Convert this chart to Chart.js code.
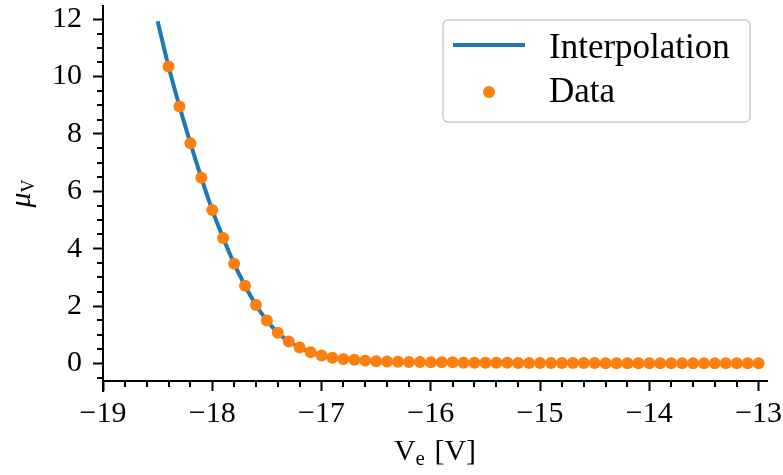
<!DOCTYPE html>
<html>
<head>
<meta charset="utf-8">
<script src="https://cdn.jsdelivr.net/npm/chart.js@4/dist/chart.umd.min.js"></script>
<style>
html, body { margin: 0; padding: 0; background: #fff; }
</style>
</head>
<body>
<canvas id="myChart" width="783" height="475"></canvas>
<script>
// measured points
var voltage = [-18.4, -18.3, -18.2, -18.1, -18.0, -17.9, -17.8, -17.7, -17.6, -17.5,
               -17.4, -17.3, -17.2, -17.1, -17.0, -16.9, -16.8, -16.7, -16.6, -16.5,
               -16.4, -16.3, -16.2, -16.1, -16.0, -15.9, -15.8, -15.7, -15.6, -15.5,
               -15.4, -15.3, -15.2, -15.1, -15.0, -14.9, -14.8, -14.7, -14.6, -14.5,
               -14.4, -14.3, -14.2, -14.1, -14.0, -13.9, -13.8, -13.7, -13.6, -13.5,
               -13.4, -13.3, -13.2, -13.1, -13.0];
var mobility = [10.35, 8.96, 7.68, 6.47, 5.35, 4.37, 3.48, 2.71, 2.04, 1.50,
                1.07, 0.77, 0.56, 0.39, 0.28, 0.20, 0.16, 0.13, 0.10, 0.08,
                0.07, 0.06, 0.05, 0.05, 0.04, 0.04, 0.04, 0.03, 0.03, 0.03,
                0.03, 0.03, 0.02, 0.02, 0.02, 0.02, 0.02, 0.02, 0.02, 0.02,
                0.01, 0.01, 0.01, 0.01, 0.01, 0.01, 0.01, 0.01, 0.01, 0.01,
                0.01, 0.01, 0.01, 0.01, 0.01];

// interpolation curve
var interpVoltage = [-18.5, -18.4, -18.3, -18.2, -18.1, -18.0, -17.9, -17.8, -17.7, -17.6,
                     -17.5, -17.4, -17.3, -17.2, -17.1, -17.0, -16.9, -16.8, -16.7, -16.6,
                     -16.5, -16.0, -15.5, -15.0, -14.5, -14.0, -13.5, -13.0];
var interpMobility = [11.93, 10.35, 8.96, 7.68, 6.47, 5.35, 4.37, 3.48, 2.71, 2.04,
                      1.50, 1.07, 0.77, 0.56, 0.39, 0.28, 0.20, 0.16, 0.13, 0.10,
                      0.08, 0.04, 0.03, 0.02, 0.02, 0.01, 0.01, 0.01];

var xTicks = [-19, -18, -17, -16, -15, -14, -13];
var yTicks = [0, 2, 4, 6, 8, 10, 12];
var seriesNames = ["Interpolation", "Data"];

var serif = "'Liberation Serif', 'DejaVu Serif', serif";
var blue = "#1f77b4";
var orange = "#ff7f0e";

function toPoints(xs, ys) {
    var pts = [];
    for (var i = 0; i < xs.length; i++) pts.push({x: xs[i], y: ys[i]});
    return pts;
}
function fmt(v) {
    return v < 0 ? "\u2212" + Math.abs(v) : String(v);
}

var extras = {
    id: "extras",
    afterDraw: function(chart) {
        var ctx = chart.ctx;
        var area = chart.chartArea;
        var xs = chart.scales.x, ys = chart.scales.y;
        ctx.save();
        ctx.strokeStyle = "#000";
        ctx.lineWidth = 2;
        // minor ticks
        ctx.beginPath();
        for (var k = -95; k <= -65; k++) {
            var v = k / 5;
            if (k % 5 === 0 || v > xs.max) continue;
            var px = Math.round(xs.getPixelForValue(v));
            ctx.moveTo(px, area.bottom);
            ctx.lineTo(px, area.bottom + 6);
        }
        for (var j = -1; j <= 25; j++) {
            var w = j / 2;
            if (j % 4 === 0 || w > ys.max) continue;
            var py = Math.round(ys.getPixelForValue(w));
            ctx.moveTo(area.left - 6, py);
            ctx.lineTo(area.left, py);
        }
        // left spine runs a bit below the bottom spine
        ctx.moveTo(area.left, area.bottom);
        ctx.lineTo(area.left, area.bottom + 11);
        ctx.stroke();

        // legend
        var bx = 443, by = 20, bw = 307, bh = 102;
        ctx.beginPath();
        ctx.roundRect(bx, by, bw, bh, 5);
        ctx.fillStyle = "rgba(255,255,255,0.8)";
        ctx.fill();
        ctx.strokeStyle = "#cccccc";
        ctx.lineWidth = 1.5;
        ctx.stroke();

        ctx.beginPath();
        ctx.strokeStyle = blue;
        ctx.lineWidth = 4;
        ctx.moveTo(453, 45);
        ctx.lineTo(525, 45);
        ctx.stroke();
        ctx.beginPath();
        ctx.fillStyle = orange;
        ctx.arc(489, 92, 6, 0, Math.PI * 2);
        ctx.fill();

        ctx.fillStyle = "#000";
        ctx.font = "35px " + serif;
        ctx.textBaseline = "alphabetic";
        ctx.textAlign = "left";
        ctx.fillText(seriesNames[0], 549, 58);
        ctx.fillText(seriesNames[1], 549, 102);

        // x axis title: V_e [V]
        var big = "30px " + serif, small = "21px " + serif;
        ctx.font = big;
        var wV = ctx.measureText("V").width;
        var wRest = ctx.measureText(" [V]").width;
        ctx.font = small;
        var wE = ctx.measureText("e").width;
        var total = wV + wE + 2 + wRest;
        var cx = (area.left + area.right) / 2 - total / 2;
        var base = 460;
        ctx.font = big;
        ctx.fillText("V", cx, base);
        ctx.font = small;
        ctx.fillText("e", cx + wV, base + 5);
        ctx.font = big;
        ctx.fillText(" [V]", cx + wV + wE + 2, base);

        // y axis title: mu_V
        ctx.translate(30, (area.top + area.bottom) / 2);
        ctx.rotate(-Math.PI / 2);
        ctx.font = "italic 30px " + serif;
        var wMu = ctx.measureText("\u03bc").width;
        ctx.font = "18px " + serif;
        var wSub = ctx.measureText("V").width;
        var start = -(wMu + wSub) / 2;
        ctx.font = "italic 30px " + serif;
        ctx.fillText("\u03bc", start, 0);
        ctx.font = "18px " + serif;
        ctx.fillText("V", start + wMu, 4);
        ctx.restore();
    }
};

var ctx = document.getElementById("myChart").getContext("2d");
var myChart = new Chart(ctx, {
    type: "scatter",
    data: {
        datasets: [
            {
                label: seriesNames[0],
                data: toPoints(interpVoltage, interpMobility),
                showLine: true,
                borderColor: blue,
                borderWidth: 4,
                pointRadius: 0,
                cubicInterpolationMode: "monotone",
                order: 2
            },
            {
                label: seriesNames[1],
                data: toPoints(voltage, mobility),
                showLine: false,
                backgroundColor: orange,
                borderWidth: 0,
                pointRadius: 6,
                order: 1
            }
        ]
    },
    options: {
        responsive: false,
        animation: false,
        devicePixelRatio: 1,
        layout: { padding: { top: 3, right: 16, left: 0, bottom: 0 } },
        plugins: { legend: { display: false }, tooltip: { enabled: false } },
        scales: {
            x: {
                type: "linear",
                min: -19,
                max: -12.923,
                afterBuildTicks: function(s) { s.ticks = xTicks.map(function(v) { return {value: v}; }); },
                afterFit: function(s) { s.height = 94; s.paddingLeft = 0; s.paddingRight = 0; },
                ticks: {
                    callback: function(v) { return fmt(v); },
                    font: { family: serif, size: 30 },
                    color: "#000",
                    padding: 5,
                    maxRotation: 0,
                    autoSkip: false
                },
                grid: { drawOnChartArea: false, tickLength: 10, tickWidth: 2, tickColor: "#000" },
                border: { display: true, color: "#000", width: 2 }
            },
            y: {
                type: "linear",
                min: -0.61,
                max: 12.46,
                afterBuildTicks: function(s) { s.ticks = yTicks.map(function(v) { return {value: v}; }); },
                afterFit: function(s) { s.width = 103; s.paddingTop = 0; s.paddingBottom = 0; },
                ticks: {
                    callback: function(v) { return fmt(v); },
                    font: { family: serif, size: 30 },
                    color: "#000",
                    padding: 11,
                    autoSkip: false
                },
                grid: { drawOnChartArea: false, tickLength: 10, tickWidth: 2, tickColor: "#000" },
                border: { display: true, color: "#000", width: 2 }
            }
        }
    },
    plugins: [extras]
});
</script>
</body>
</html>
